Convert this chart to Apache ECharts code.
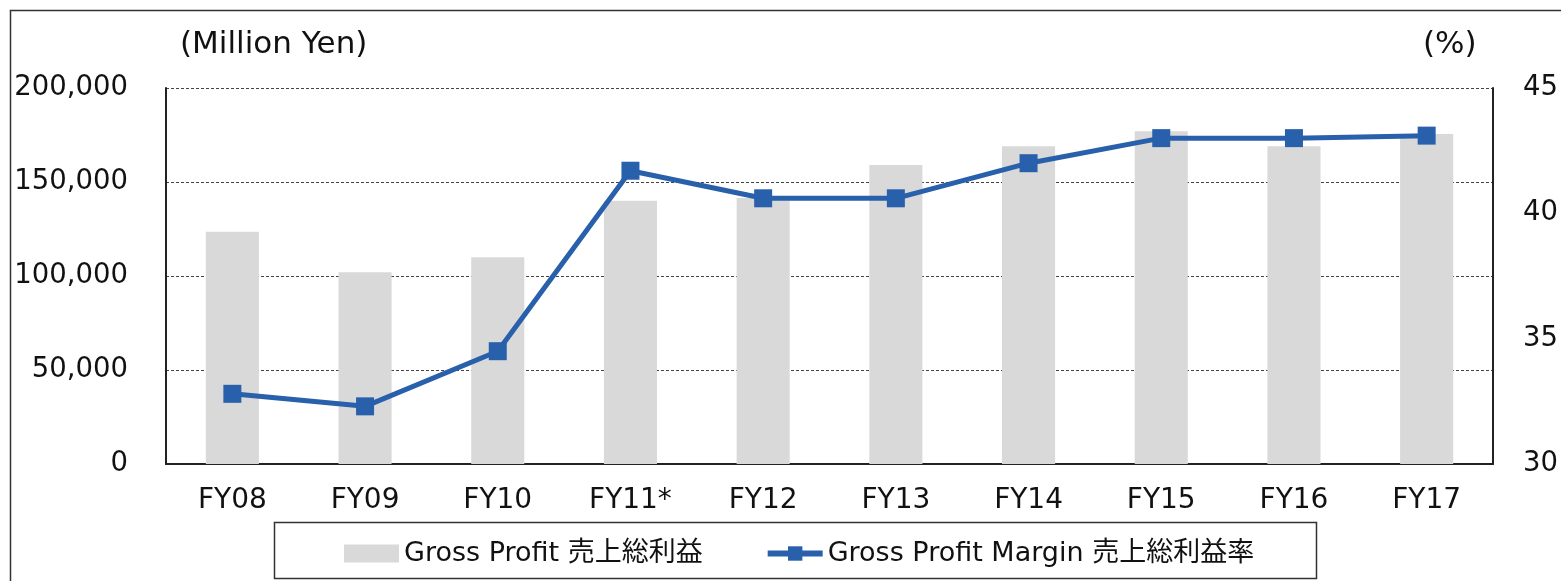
<!DOCTYPE html>
<html>
<head>
<meta charset="utf-8">
<script src="https://cdn.jsdelivr.net/npm/echarts@6/dist/echarts.min.js"></script>
<style>
html,body{margin:0;padding:0;background:#fff;}
#main{width:1561px;height:581px;}
</style>
</head>
<body>
<div id="main"></div>
<script>
// データ
var years = ['FY08', 'FY09', 'FY10', 'FY11*', 'FY12', 'FY13', 'FY14', 'FY15', 'FY16', 'FY17'];
var grossProfit = [123500, 102000, 110000, 140000, 141500, 159000, 169000, 177000, 169000, 175500];
var grossMargin = [32.8, 32.3, 34.5, 41.7, 40.6, 40.6, 42.0, 43.0, 43.0, 43.1];
var leftTicks = [0, 200000, 50000];   // min, max, interval
var rightTicks = [30, 45, 5];

var font = "'DejaVu Sans', 'Noto Sans CJK JP', sans-serif";
var myChart = echarts.init(document.getElementById('main'));

function addComma(v) {
    return String(v).replace(/\B(?=(\d{3})+(?!\d))/g, ',');
}

var option = {
    animation: false,
    textStyle: {fontFamily: font, color: '#111'},
    graphic: [
        {type: 'rect', shape: {x: 10.5, y: 10.5, width: 1600, height: 600},
            style: {fill: 'none', stroke: '#333', lineWidth: 1.5}, silent: true},
        {type: 'rect', shape: {x: 274.5, y: 522.5, width: 1042, height: 56},
            style: {fill: '#fff', stroke: '#333', lineWidth: 1.5}, z: 0, silent: true},
        {type: 'text', left: 180, top: 29, style: {text: '(Million Yen)', font: '31px ' + font, fill: '#111'}},
        {type: 'text', left: 1423, top: 29, style: {text: '(%)', font: '31px ' + font, fill: '#111'}}
    ],
    legend: {
        left: 339,
        top: 535,
        itemGap: 62,
        itemWidth: 55,
        itemHeight: 18,
        textStyle: {fontSize: 27, fontFamily: font, color: '#111'},
        data: [
            {name: 'Gross Profit 売上総利益', icon: 'rect'},
            {name: 'Gross Profit Margin 売上総利益率', lineStyle: {width: 6, color: '#2860ac'}}
        ]
    },
    grid: {left: 166, right: 65, top: 88, bottom: 117},
    xAxis: {
        type: 'category',
        data: years,
        axisLine: {lineStyle: {color: '#222', width: 2}},
        axisTick: {inside: true, length: 9, lineStyle: {color: '#555', width: 1.5}},
        axisLabel: {fontSize: 28, color: '#111', margin: 23, fontFamily: font}
    },
    yAxis: [
        {
            type: 'value',
            min: leftTicks[0], max: leftTicks[1], interval: leftTicks[2],
            axisLine: {show: true, lineStyle: {color: '#222', width: 2}},
            axisTick: {show: false},
            axisLabel: {fontSize: 27.5, color: '#111', margin: 38, fontFamily: font,
                formatter: function (v) { return addComma(v); }},
            splitLine: {show: true, lineStyle: {color: '#444', type: [3, 2], width: 1}}
        },
        {
            type: 'value',
            min: rightTicks[0], max: rightTicks[1], interval: rightTicks[2],
            axisLine: {show: true, lineStyle: {color: '#222', width: 2}},
            axisTick: {show: false},
            axisLabel: {fontSize: 27.5, color: '#111', margin: 30, fontFamily: font},
            splitLine: {show: false}
        }
    ],
    series: [
        {
            name: 'Gross Profit 売上総利益',
            type: 'bar',
            barWidth: '40%',
            itemStyle: {color: '#d9d9d9'},
            data: grossProfit
        },
        {
            name: 'Gross Profit Margin 売上総利益率',
            type: 'line',
            yAxisIndex: 1,
            symbol: 'rect',
            symbolSize: 18,
            lineStyle: {color: '#2860ac', width: 5},
            itemStyle: {color: '#2860ac'},
            data: grossMargin
        }
    ]
};

myChart.setOption(option);
</script>
</body>
</html>
